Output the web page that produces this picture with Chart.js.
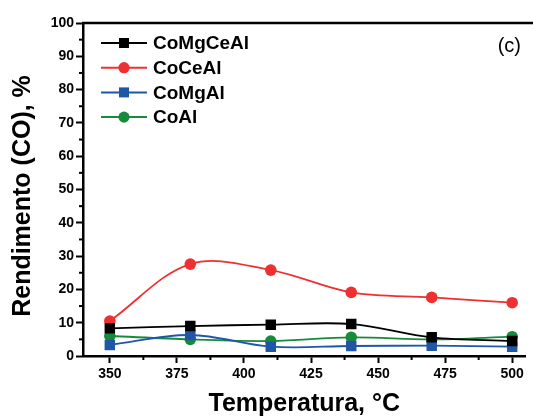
<!DOCTYPE html>
<html>
<head>
<meta charset="utf-8">
<script src="https://cdn.jsdelivr.net/npm/chart.js@4"></script>
<style>
    html, body { margin: 0; padding: 0; background: #fff; }
    #wrap { width: 533px; height: 419px; position: relative; }
</style>
</head>
<body>
<div id="wrap"><canvas id="yieldChart"></canvas></div>
<script>
/************************
 *      Resource
 ************************/
const TEMPERATURES = [350, 380, 410, 440, 470, 500]
const CO_MG_CE_AL = [8.3, 9.0, 9.4, 9.6, 5.6, 4.5]
const CO_CE_AL = [10.5, 27.6, 25.8, 19.1, 17.6, 16.0]
const CO_MG_AL = [3.3, 6.3, 2.8, 3.0, 3.1, 2.8]
const CO_AL = [6.0, 5.0, 4.5, 5.6, 5.0, 5.8]
const SERIES_NAMES = ["CoMgCeAl", "CoCeAl", "CoMgAl", "CoAl"]
const X_TICKS = [350, 375, 400, 425, 450, 475, 500]
const Y_TICKS = [0, 10, 20, 30, 40, 50, 60, 70, 80, 90, 100]
const Y_TITLE = "Rendimento (CO), %"

const FONT = "Arial, 'Liberation Sans', sans-serif"

/************************
 *      Method
 ************************/
const toPoints = (values) => TEMPERATURES.map((t, i) => ({ x: t, y: values[i] }))

const makeSet = (label, values, color, shape) => ({
    label: label,
    data: toPoints(values),
    borderColor: color,
    backgroundColor: color,
    borderWidth: 1.8,
    pointStyle: shape,
    pointRadius: shape === "rect" ? 7.4 : 5.8,
    pointBorderWidth: 0,
    tension: 0.35,
    cubicInterpolationMode: "default"
})

// minor ticks, top frame line, y title, legend with line + marker, panel tag
const decorPlugin = {
    id: "decor",
    afterDraw(chart) {
        const ctx = chart.ctx
        const area = chart.chartArea
        const xs = chart.scales.x
        const ys = chart.scales.y
        ctx.save()
        ctx.strokeStyle = "#000"
        ctx.lineWidth = 2.5
        ctx.beginPath()
        ctx.moveTo(area.left - 1, area.top)
        ctx.lineTo(chart.width, area.top)
        ctx.stroke()

        ctx.lineWidth = 2
        for (let i = 0; i < Y_TICKS.length - 1; i++) {
            const py = ys.getPixelForValue((Y_TICKS[i] + Y_TICKS[i + 1]) / 2)
            ctx.beginPath()
            ctx.moveTo(area.left, py)
            ctx.lineTo(area.left - 4, py)
            ctx.stroke()
        }
        for (let i = 0; i < X_TICKS.length - 1; i++) {
            const px = xs.getPixelForValue((X_TICKS[i] + X_TICKS[i + 1]) / 2)
            ctx.beginPath()
            ctx.moveTo(px, area.bottom)
            ctx.lineTo(px, area.bottom + 4)
            ctx.stroke()
        }

        //y title, sits a bit below the plot centre in the original
        ctx.save()
        ctx.translate(23, 196)
        ctx.rotate(-Math.PI / 2)
        ctx.fillStyle = "#000"
        ctx.font = "bold 25px " + FONT
        ctx.textAlign = "center"
        ctx.textBaseline = "middle"
        ctx.fillText(Y_TITLE, 0, 0)
        ctx.restore()

        //legend
        chart.data.datasets.forEach((ds, i) => {
            const y = area.top + 20 + i * 24.7
            const x0 = area.left + 18
            ctx.strokeStyle = ds.borderColor
            ctx.lineWidth = 2
            ctx.beginPath()
            ctx.moveTo(x0, y)
            ctx.lineTo(x0 + 46, y)
            ctx.stroke()
            ctx.fillStyle = ds.backgroundColor
            if (ds.pointStyle === "rect") {
                ctx.fillRect(x0 + 23 - 5, y - 5, 10, 10)
            } else {
                ctx.beginPath()
                ctx.arc(x0 + 23, y, 5.6, 0, Math.PI * 2)
                ctx.fill()
            }
            ctx.fillStyle = "#000"
            ctx.font = "bold 19px " + FONT
            ctx.textBaseline = "middle"
            ctx.textAlign = "left"
            ctx.fillText(ds.label, x0 + 52, y + 1)
        })

        ctx.font = "20px " + FONT
        ctx.textAlign = "right"
        ctx.textBaseline = "middle"
        ctx.fillStyle = "#000"
        ctx.fillText("(c)", 521, 46)
        ctx.restore()
    }
}

const createChart = () => {
    const datasets = [
        makeSet(SERIES_NAMES[0], CO_MG_CE_AL, "#000000", "rect"),
        makeSet(SERIES_NAMES[1], CO_CE_AL, "#ee3030", "circle"),
        makeSet(SERIES_NAMES[2], CO_MG_AL, "#1f56a8", "rect"),
        makeSet(SERIES_NAMES[3], CO_AL, "#178a3c", "circle")
    ]

    new Chart("yieldChart", {
        type: "line",
        data: { datasets: datasets },
        options: {
            responsive: true,
            maintainAspectRatio: false,
            animation: false,
            layout: { padding: { top: 23, left: 0, right: 0, bottom: 0 } },
            plugins: {
                legend: { display: false },
                tooltip: { enabled: false }
            },
            scales: {
                x: {
                    type: "linear",
                    min: 340,
                    max: 505,
                    afterBuildTicks: (scale) => { scale.ticks = X_TICKS.map(v => ({ value: v })) },
                    afterFit: (scale) => { scale.height = 63 },
                    grid: { drawOnChartArea: false, tickLength: 7, tickWidth: 2, tickColor: "#000" },
                    border: { color: "#000", width: 2.5 },
                    ticks: {
                        color: "#000",
                        font: { family: FONT, size: 14, weight: "bold" },
                        padding: 3,
                        maxRotation: 0,
                        autoSkip: false
                    },
                    title: {
                        display: true,
                        text: "Temperatura, °C",
                        color: "#000",
                        font: { family: FONT, size: 25, weight: "bold" },
                        padding: { top: 0, bottom: 0 }
                    }
                },
                y: {
                    min: 0,
                    max: 100,
                    afterBuildTicks: (scale) => { scale.ticks = Y_TICKS.map(v => ({ value: v })) },
                    afterFit: (scale) => { scale.width = 83 },
                    grid: { drawOnChartArea: false, tickLength: 7, tickWidth: 2, tickColor: "#000" },
                    border: { color: "#000", width: 2.5 },
                    ticks: {
                        color: "#000",
                        font: { family: FONT, size: 14, weight: "bold" },
                        padding: 2
                    },
                    title: { display: false }
                }
            }
        },
        plugins: [decorPlugin]
    })
}

createChart()
</script>
</body>
</html>
